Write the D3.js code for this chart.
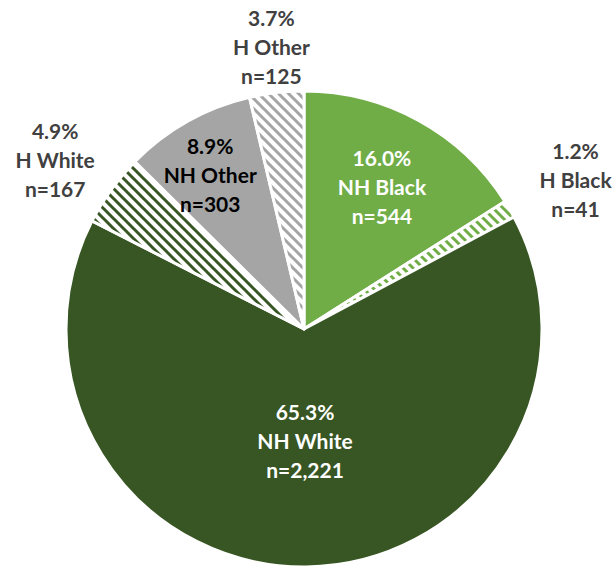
<!DOCTYPE html>
<html><head><meta charset="utf-8">
<script src="https://cdn.jsdelivr.net/npm/d3@7"></script>
<style>body{margin:0;background:#fff}svg{display:block}</style>
</head><body>
<svg id="chart" width="612" height="567"></svg>
<script>
const categories = ["NH Black","H Black","NH White","H White","NH Other","H Other"];
const counts = [544, 41, 2221, 167, 303, 125];
const percents = ["16.0%","1.2%","65.3%","4.9%","8.9%","3.7%"];
const countLabels = ["n=544","n=41","n=2,221","n=167","n=303","n=125"];
const baseColors = ["#70AD47","#70AD47","#375623","#375623","#A5A5A5","#A5A5A5"];
const hatched = [false,true,false,true,false,true];
const textColors = ["#FFFFFF","#404040","#FFFFFF","#404040","#000000","#404040"];
const labelRadius = [0.68,1.30,0.475,1.262,0.755,1.19];
const labelAngleShift = [0,1.6,0,-1.8,-2.2,0];

const svg = d3.select("#chart");
const cx = 304, cy = 329, R = 238;
const defs = svg.append("defs");
const T = 10;
baseColors.forEach((c,i)=>{
  if(!hatched[i]) return;
  const p = defs.append("pattern").attr("id","hatch"+i)
    .attr("patternUnits","userSpaceOnUse").attr("width",T).attr("height",T);
  p.append("rect").attr("width",T).attr("height",T).attr("fill","#fff");
  p.append("path").attr("d",`M-2,-2L${T+2},${T+2}M-2,${T-2}L2,${T+2}M${T-2},-2L${T+2},2`)
    .attr("stroke",c).attr("stroke-width",3);
});

const data = categories.map((c,i)=>({cat:c,value:counts[i],i}));
const pie = d3.pie().value(d=>d.value).sort(null);
const arcs = pie(data);
const arc = d3.arc().innerRadius(0).outerRadius(R);
const g = svg.append("g").attr("transform",`translate(${cx},${cy})`);
g.selectAll("path.slice").data(arcs).join("path").attr("class","slice")
  .attr("d",arc)
  .attr("fill",d=>hatched[d.data.i]?`url(#hatch${d.data.i})`:baseColors[d.data.i])
  .attr("stroke","#fff").attr("stroke-width",3).attr("stroke-linejoin","round");

const lg = g.selectAll("g.lab").data(arcs).join("g").attr("class","lab")
  .attr("transform",d=>{
    const i=d.data.i;
    const a=(d.startAngle+d.endAngle)/2 + labelAngleShift[i]*Math.PI/180, r=R*labelRadius[i];
    return `translate(${r*Math.sin(a)},${-r*Math.cos(a)})`;
  });
lg.each(function(d){
  const i=d.data.i;
  const t=d3.select(this).append("text").attr("text-anchor","middle")
    .attr("font-family","Lato, 'Open Sans', sans-serif").attr("font-weight","bold")
    .attr("font-size",21).attr("fill",textColors[i]);
  [percents[i],categories[i],countLabels[i]].forEach((s,k)=>{
    t.append("tspan").attr("x",0).attr("y",(k-1)*29).attr("dy","0.35em").text(s);
  });
});
</script>
</body></html>
